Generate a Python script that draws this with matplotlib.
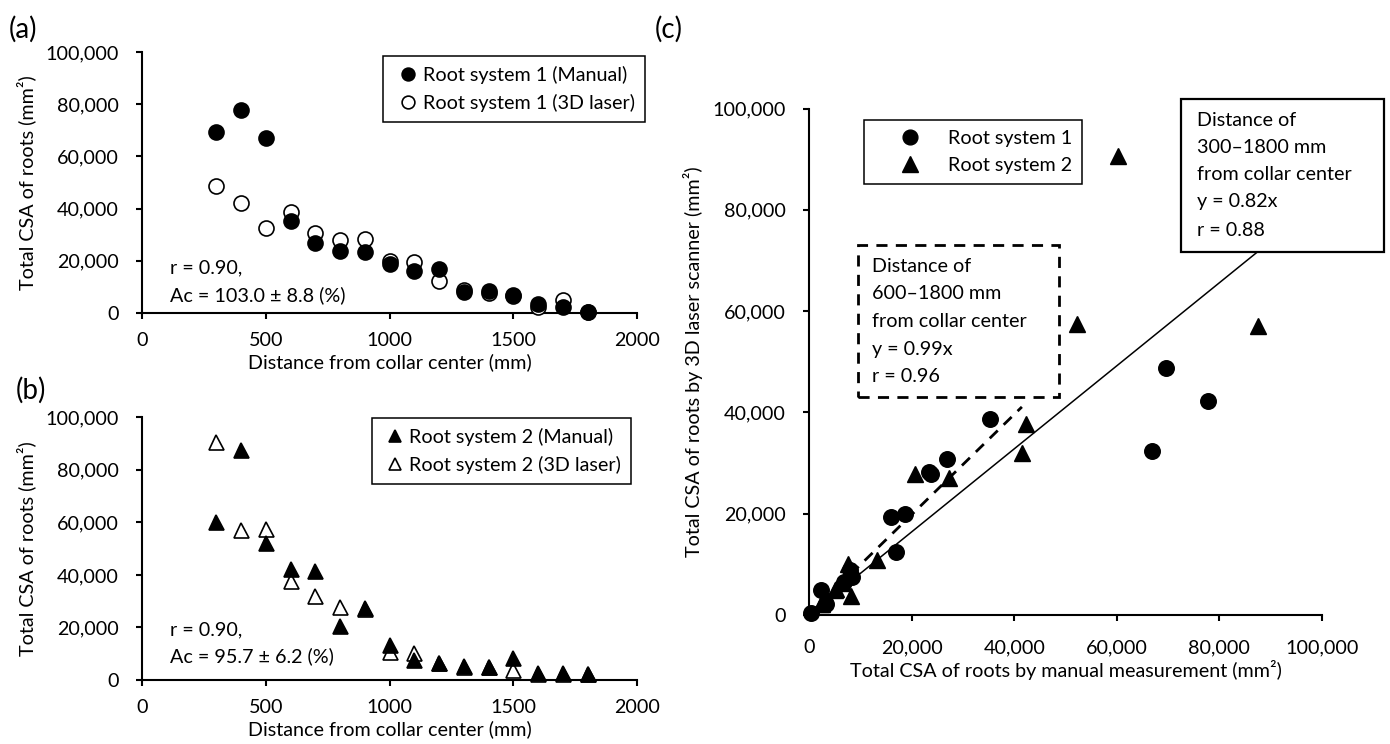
import matplotlib
matplotlib.use("Agg")
import matplotlib.pyplot as plt
from matplotlib.patches import Rectangle
from matplotlib.lines import Line2D
from matplotlib.ticker import FuncFormatter
import numpy as np

plt.rcParams['font.family'] = ['Lato', 'DejaVu Sans']
FS = 14.2
plt.rcParams['font.size'] = FS

# ---- data ----
distance = [300, 400, 500, 600, 700, 800, 900, 1000, 1100, 1200, 1300, 1400, 1500, 1600, 1700, 1800]
rs1_manual = [69500, 77800, 66900, 35200, 26900, 23800, 23400, 18800, 16000, 16900, 7900, 8400, 6800, 3300, 2400, 300]
rs1_laser = [48800, 42300, 32400, 38600, 30800, 27800, 28200, 19900, 19400, 12400, 8800, 7500, 6600, 2200, 5000, 300]
rs2_manual = [60300, 87600, 52300, 42300, 41600, 20600, 27300, 13300, 7600, 6600, 5300, 5100, 8200, 2500, 2500, 2300]
rs2_laser = [90700, 57100, 57400, 37800, 32000, 27900, 27000, 10800, 10100, 6300, 5100, 4900, 3800, 2300, 2200, 2100]

slope_all = 0.82      # 300-1800 mm
slope_600 = 0.99      # 600-1800 mm
line_all_end = 88000
line_600_end = 41500

W, H = 1390, 744
fig = plt.figure(figsize=(W / 100, H / 100), dpi=100)

def fx(px):
    return px / W

def fy(py):
    return 1 - py / H

def style(ax, xpad=9, ypad=12):
    for s in ['top', 'right']:
        ax.spines[s].set_visible(False)
    for s in ['left', 'bottom']:
        ax.spines[s].set_linewidth(1.5)
        ax.spines[s].set_color('black')
    ax.tick_params(axis='both', direction='out', length=4.5, width=1.5, colors='black', labelsize=FS)
    ax.tick_params(axis='x', pad=xpad)
    ax.tick_params(axis='y', pad=ypad)

comma = FuncFormatter(lambda v, p: f"{int(round(v)):,}")

ms = 10.8
mew = 1.2

# ---- panel (a) ----
axa = fig.add_axes([fx(142), fy(313), fx(637 - 142), (313 - 52) / H])
axa.plot(distance, rs1_laser, 'o', ms=ms, mfc='white', mec='black', mew=mew, ls='none', clip_on=False, zorder=3)
axa.plot(distance, rs1_manual, 'o', ms=ms, mfc='black', mec='black', mew=mew, ls='none', clip_on=False, zorder=4)
axa.set_xlim(0, 2000)
axa.set_ylim(0, 100000)
axa.set_xticks([0, 500, 1000, 1500, 2000])
axa.set_yticks(np.arange(0, 100001, 20000))
axa.yaxis.set_major_formatter(comma)
style(axa)
axa.set_xlabel('Distance from collar center (mm)', labelpad=3)
axa.set_ylabel('Total CSA of roots (mm²)', labelpad=7)
ha1 = Line2D([], [], marker='o', ls='none', ms=ms, mfc='black', mec='black', mew=mew)
ha2 = Line2D([], [], marker='o', ls='none', ms=ms, mfc='white', mec='black', mew=mew)
lega = axa.legend([ha1, ha2], ['Root system 1 (Manual)', 'Root system 1 (3D laser)'],
                  loc='upper left', bbox_to_anchor=((383 - 142) / 495, (313 - 56) / 261),
                  fancybox=False, framealpha=1, markerscale=0.85,
                  edgecolor='black', handlelength=1.5, handletextpad=0.05, labelspacing=0.5,
                  borderpad=0.5, borderaxespad=0, fontsize=FS)
lega.get_frame().set_linewidth(1.1)
axa.text(0.057, 0.172, 'r = 0.90,', transform=axa.transAxes, va='center', fontsize=FS)
axa.text(0.057, 0.07, 'Ac = 103.0 ± 8.8 (%)', transform=axa.transAxes, va='center', fontsize=FS)

# ---- panel (b) ----
axb = fig.add_axes([fx(142), fy(680), fx(637 - 142), (680 - 417.3) / H])
axb.plot(distance, rs2_laser, '^', ms=ms, mfc='white', mec='black', mew=mew, ls='none', clip_on=False, zorder=3)
axb.plot(distance, rs2_manual, '^', ms=ms, mfc='black', mec='black', mew=mew, ls='none', clip_on=False, zorder=4)
axb.set_xlim(0, 2000)
axb.set_ylim(0, 100000)
axb.set_xticks([0, 500, 1000, 1500, 2000])
axb.set_yticks(np.arange(0, 100001, 20000))
axb.yaxis.set_major_formatter(comma)
style(axb)
axb.set_xlabel('Distance from collar center (mm)', labelpad=3)
axb.set_ylabel('Total CSA of roots (mm²)', labelpad=7)
hb1 = Line2D([], [], marker='^', ls='none', ms=ms, mfc='black', mec='black', mew=mew)
hb2 = Line2D([], [], marker='^', ls='none', ms=ms, mfc='white', mec='black', mew=mew)
legb = axb.legend([hb1, hb2], ['Root system 2 (Manual)', 'Root system 2 (3D laser)'],
                  loc='upper left', bbox_to_anchor=((372 - 142) / 495, (680 - 418) / 262.7),
                  fancybox=False, framealpha=1, markerscale=0.85,
                  edgecolor='black', handlelength=1.35, handletextpad=0.05, labelspacing=0.5,
                  borderpad=0.5, borderaxespad=0, fontsize=FS)
legb.get_frame().set_linewidth(1.1)
axb.text(0.057, 0.19, 'r = 0.90,', transform=axb.transAxes, va='center', fontsize=FS)
axb.text(0.057, 0.09, 'Ac = 95.7 ± 6.2 (%)', transform=axb.transAxes, va='center', fontsize=FS)

# ---- panel (c) ----
msc_o, msc_t = 11.2, 11.8
axc = fig.add_axes([fx(809), fy(615), fx(1322 - 809), (615 - 108.5) / H])
axc.plot(rs1_manual, rs1_laser, 'o', ms=msc_o, mfc='black', mec='black', ls='none', clip_on=False, zorder=3)
axc.plot(rs2_manual, rs2_laser, '^', ms=msc_t, mfc='black', mec='black', ls='none', clip_on=False, zorder=3)
xs = np.array([0, line_all_end])
axc.plot(xs, slope_all * xs, color='black', lw=1.1, zorder=2)
xs2 = np.array([0, line_600_end])
axc.plot(xs2, slope_600 * xs2, color='black', lw=2.0, ls=(0, (4, 3)), zorder=2)
axc.set_xlim(0, 100000)
axc.set_ylim(0, 100000)
axc.set_xticks(np.arange(0, 100001, 20000))
axc.set_yticks(np.arange(0, 100001, 20000))
axc.xaxis.set_major_formatter(comma)
axc.yaxis.set_major_formatter(comma)
style(axc, xpad=13)
axc.set_xlabel('Total CSA of roots by manual measurement (mm²)', labelpad=3)
axc.set_ylabel('Total CSA of roots by 3D laser scanner (mm²)', labelpad=7)
hc1 = Line2D([], [], marker='o', ls='none', ms=msc_o, mfc='black', mec='black')
hc2 = Line2D([], [], marker='^', ls='none', ms=msc_t, mfc='black', mec='black')
legc = axc.legend([hc1, hc2], ['Root system 1', 'Root system 2'],
                  loc='upper left', bbox_to_anchor=((864 - 809) / 513, (615 - 120) / 506.5),
                  fancybox=False, framealpha=1, markerscale=0.95,
                  edgecolor='black', handlelength=3.7, handletextpad=0.05, labelspacing=0.5,
                  borderpad=0.5, borderaxespad=0, fontsize=FS)
legc.get_frame().set_linewidth(1.1)

# dashed box (600-1800 mm)
axc.add_patch(Rectangle((9500, 43000), 48800 - 9500, 73000 - 43000, fill=False, ec='black',
                        lw=2.0, ls=(0, (4, 3)), clip_on=False, zorder=5))
dash_lines = ['Distance of', '600–1800 mm', 'from collar center', 'y = 0.99x', 'r = 0.96']
dash_y = [68800, 63400, 57900, 52500, 47000]
for t, yy in zip(dash_lines, dash_y):
    axc.text(12200, yy, t, va='center', ha='left', fontsize=FS, zorder=6)

# solid box (300-1800 mm)
axc.add_patch(Rectangle((72600, 71600), 112000 - 72600, 101800 - 71600, fc='white', ec='black',
                        lw=1.6, clip_on=False, zorder=5))
solid_lines = ['Distance of', '300–1800 mm', 'from collar center', 'y = 0.82x', 'r = 0.88']
solid_y = [97700, 92300, 86900, 81600, 76000]
for t, yy in zip(solid_lines, solid_y):
    axc.text(75600, yy, t, va='center', ha='left', fontsize=FS, zorder=6)

# panel letters
fig.text(fx(9), fy(29), '(a)', fontsize=20, va='center', ha='left')
fig.text(fx(16), fy(390), '(b)', fontsize=20, va='center', ha='left')
fig.text(fx(655), fy(29), '(c)', fontsize=20, va='center', ha='left')

fig.savefig('out.png', dpi=100, facecolor='white')
